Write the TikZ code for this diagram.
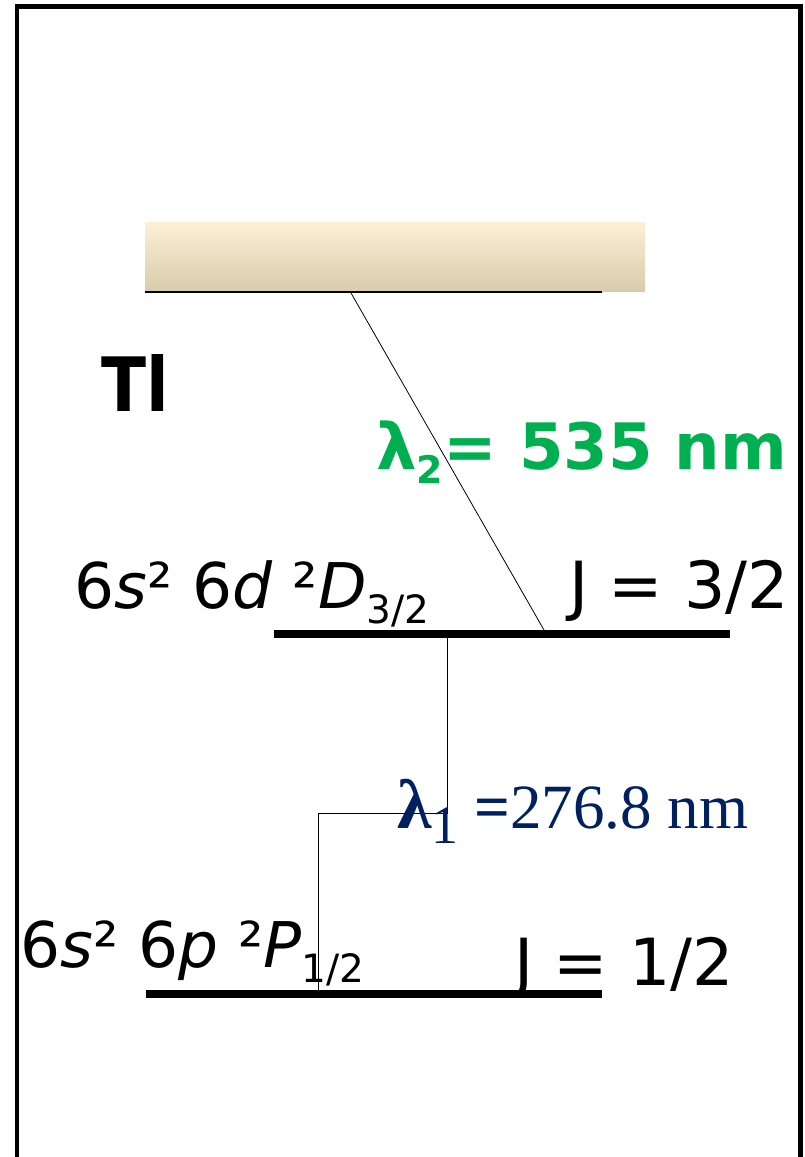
\documentclass[tikz,border=0pt]{standalone}
\usepackage{fontspec}
\setmainfont{DejaVu Sans}
\newfontfamily\serifnum{Liberation Serif}
\usetikzlibrary{positioning}
\definecolor{lamgreen}{HTML}{00B050}
\definecolor{lamnavy}{HTML}{002060}
\definecolor{bandtop}{HTML}{FCF0D7}
\definecolor{bandbot}{HTML}{D9CCAB}
\newcommand{\lowidx}[1]{\raisebox{-15pt}{\fontsize{39}{39}\selectfont #1}}

\begin{document}
\begin{tikzpicture}[x=1pt,y=-1pt]
\tikzset{
  level/.style={line width=8pt},
  bandline/.style={line width=2.5pt},
  transition/.style={line width=0.8pt},
  termlabel/.style={anchor=base west,inner sep=0pt,font=\fontsize{63}{70}\selectfont},
  jlabel/.style={anchor=base west,inner sep=0pt,font=\fontsize{65}{70}\selectfont},
  elemlabel/.style={anchor=base west,inner sep=0pt,font=\bfseries\fontsize{75}{80}\selectfont},
  greenlabel/.style={anchor=base west,inner sep=0pt,text=lamgreen,font=\bfseries\fontsize{64}{70}\selectfont},
  navylabel/.style={anchor=base west,inner sep=0pt,text=lamnavy,font=\serifnum\fontsize{63}{70}\selectfont}
}
\useasboundingbox (0,0) rectangle (804,1157);
% frame
\draw[line width=4.5pt] (17,1160) -- (17,6.5) -- (800.5,6.5) -- (800.5,1160);
% continuum band
\shade[top color=bandtop,bottom color=bandbot] (145,222) rectangle (645,291);
\coordinate (cont_w) at (145,292);
\coordinate (cont_e) at (602,292);
\draw[bandline] (cont_w) -- (cont_e);
% levels
\coordinate (d_w) at (274,634);
\coordinate (d_e) at (730,634);
\coordinate (p_w) at (146,994);
\coordinate (p_e) at (602,994);
\draw[level] (d_w) -- (d_e);
\draw[level] (p_w) -- (p_e);
% transitions
\coordinate (cont_dn) at (351,293);
\coordinate (d_up) at (544,630);
\coordinate (d_dn) at (447,638);
\coordinate (kink) at (318,813);
\coordinate (p_up) at (318,990);
\draw[transition] (cont_dn) -- (d_up);
\draw[transition] (d_dn) |- (kink) -- (p_up);
% labels
\node[elemlabel] (elem) at (101,411) {\scalebox{0.88}[1]{Tl}};
\node[greenlabel] (lam2) at (376,469) {λ\raisebox{-14pt}{\fontsize{38}{38}\selectfont 2}= 535 nm};
\node[termlabel] (lbl_d) at (74,608) {6\textit{s}² 6\textit{d} ²\textit{D}\lowidx{3/2}};
\node[jlabel] (j_d) at (569,608) {J = 3/2};
\node[navylabel] (lam1) at (397,828) {{\bfseries\fontsize{70}{70}\selectfont λ}\raisebox{-15pt}{\fontsize{54}{54}\selectfont 1} \textbf{=}276.8 nm};
\node[termlabel] (lbl_p) at (20,967) {6\textit{s}² 6\textit{p} ²\textit{P}\lowidx{1/2}};
\node[jlabel] (j_p) at (514,985) {J = 1/2};
\end{tikzpicture}
\end{document}
